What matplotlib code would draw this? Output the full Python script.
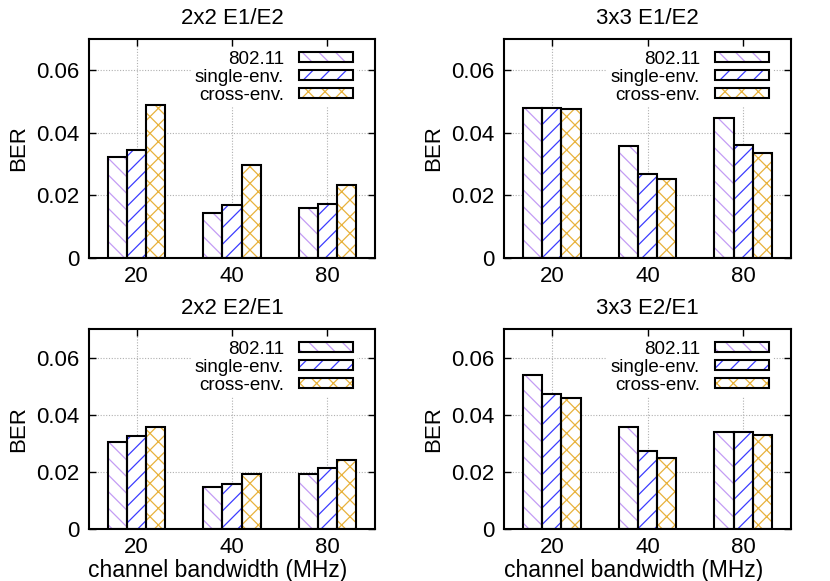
import matplotlib
matplotlib.use("Agg")
import matplotlib.pyplot as plt
import numpy as np
from matplotlib.patches import Patch
from matplotlib.legend_handler import HandlerTuple

plt.rcParams['font.family'] = ['Liberation Sans', 'DejaVu Sans']
plt.rcParams['hatch.linewidth'] = 0.9

categories = ["20", "40", "80"]
series_names = ["802.11", "single-env.", "cross-env."]
titles = ["2x2 E1/E2", "3x3 E1/E2", "2x2 E2/E1", "3x3 E2/E1"]

# values per panel: [802.11, single-env., cross-env.] across 20/40/80 MHz
v_2x2_e1e2_80211 = [0.0324, 0.0144, 0.0159]
v_2x2_e1e2_single = [0.0346, 0.0168, 0.0173]
v_2x2_e1e2_cross = [0.0489, 0.0298, 0.0233]

v_3x3_e1e2_80211 = [0.0481, 0.0359, 0.0446]
v_3x3_e1e2_single = [0.0481, 0.0270, 0.0360]
v_3x3_e1e2_cross = [0.0476, 0.0252, 0.0336]

v_2x2_e2e1_80211 = [0.0306, 0.0146, 0.0192]
v_2x2_e2e1_single = [0.0327, 0.0158, 0.0212]
v_2x2_e2e1_cross = [0.0358, 0.0193, 0.0241]

v_3x3_e2e1_80211 = [0.0539, 0.0358, 0.0341]
v_3x3_e2e1_single = [0.0471, 0.0273, 0.0341]
v_3x3_e2e1_cross = [0.0457, 0.0250, 0.0330]

panels = [
    [v_2x2_e1e2_80211, v_2x2_e1e2_single, v_2x2_e1e2_cross],
    [v_3x3_e1e2_80211, v_3x3_e1e2_single, v_3x3_e1e2_cross],
    [v_2x2_e2e1_80211, v_2x2_e2e1_single, v_2x2_e2e1_cross],
    [v_3x3_e2e1_80211, v_3x3_e2e1_single, v_3x3_e2e1_cross],
]

hatch_colors = ['#c49cf4', '#3c3cff', '#e8b23c']
hatches = ['\\\\', '//', 'xx']

W, H = 830, 581
fig = plt.figure(figsize=(W / 100, H / 100), dpi=100)

boxes = [
    (89, 39, 375, 258),
    (504, 39, 791, 258),
    (89, 329, 375, 529),
    (504, 329, 791, 529),
]

x = np.arange(len(categories))
bw = 0.2
offsets = [-bw, 0, bw]

for i, (box, vals, title) in enumerate(zip(boxes, panels, titles)):
    l, t, r, b = box
    ax = fig.add_axes([l / W, 1 - b / H, (r - l) / W, (b - t) / H])
    handles = []
    for j in range(3):
        ax.bar(x + offsets[j], vals[j], width=bw, facecolor='white',
               edgecolor=hatch_colors[j], hatch=hatches[j], linewidth=0, zorder=2)
        ax.bar(x + offsets[j], vals[j], width=bw, facecolor='none',
               edgecolor='black', linewidth=1.5, zorder=3)
        p1 = Patch(facecolor='white', edgecolor=hatch_colors[j], hatch=hatches[j], linewidth=0)
        p2 = Patch(facecolor='none', edgecolor='black', linewidth=1.5)
        handles.append((p1, p2))
    ax.set_xlim(-0.5, 2.5)
    ax.set_ylim(0, 0.07)
    ax.set_xticks(x)
    ax.set_xticklabels(categories)
    ax.set_yticks([0, 0.02, 0.04, 0.06])
    ax.set_yticklabels(["0", "0.02", "0.04", "0.06"])
    ax.tick_params(direction='in', length=5, width=1, top=True, right=True,
                   labelsize=16, pad=7)
    ax.tick_params(axis='x', pad=6)
    ax.grid(True, color='#b0b0b0', linestyle=(0, (1, 1.5)), linewidth=0.8, zorder=0)
    ax.set_axisbelow(True)
    for s in ax.spines.values():
        s.set_linewidth(1.5)
        s.set_zorder(5)
    ax.set_title(title, fontsize=16, pad=11)
    ax.set_ylabel("BER", fontsize=16, labelpad=5)
    if i >= 2:
        ax.set_xlabel("channel bandwidth (MHz)", fontsize=16.5)
        ax.xaxis.set_label_coords(0.45, -41 / (b - t))
        ax.xaxis.label.set_va('center')
    hpx = b - t
    leg = ax.legend(handles, series_names, handler_map={tuple: HandlerTuple(ndivide=1, pad=0)},
                    loc='upper right', bbox_to_anchor=(0.937, 1 - 8 / hpx), fontsize=13.5,
                    markerfirst=False, frameon=True, fancybox=False, framealpha=1,
                    edgecolor='none', handlelength=2.9, handleheight=0.45,
                    handletextpad=0.8, labelspacing=0.05, borderpad=0.2, borderaxespad=0)
    leg.set_zorder(4)

fig.savefig("out.png", dpi=100)
